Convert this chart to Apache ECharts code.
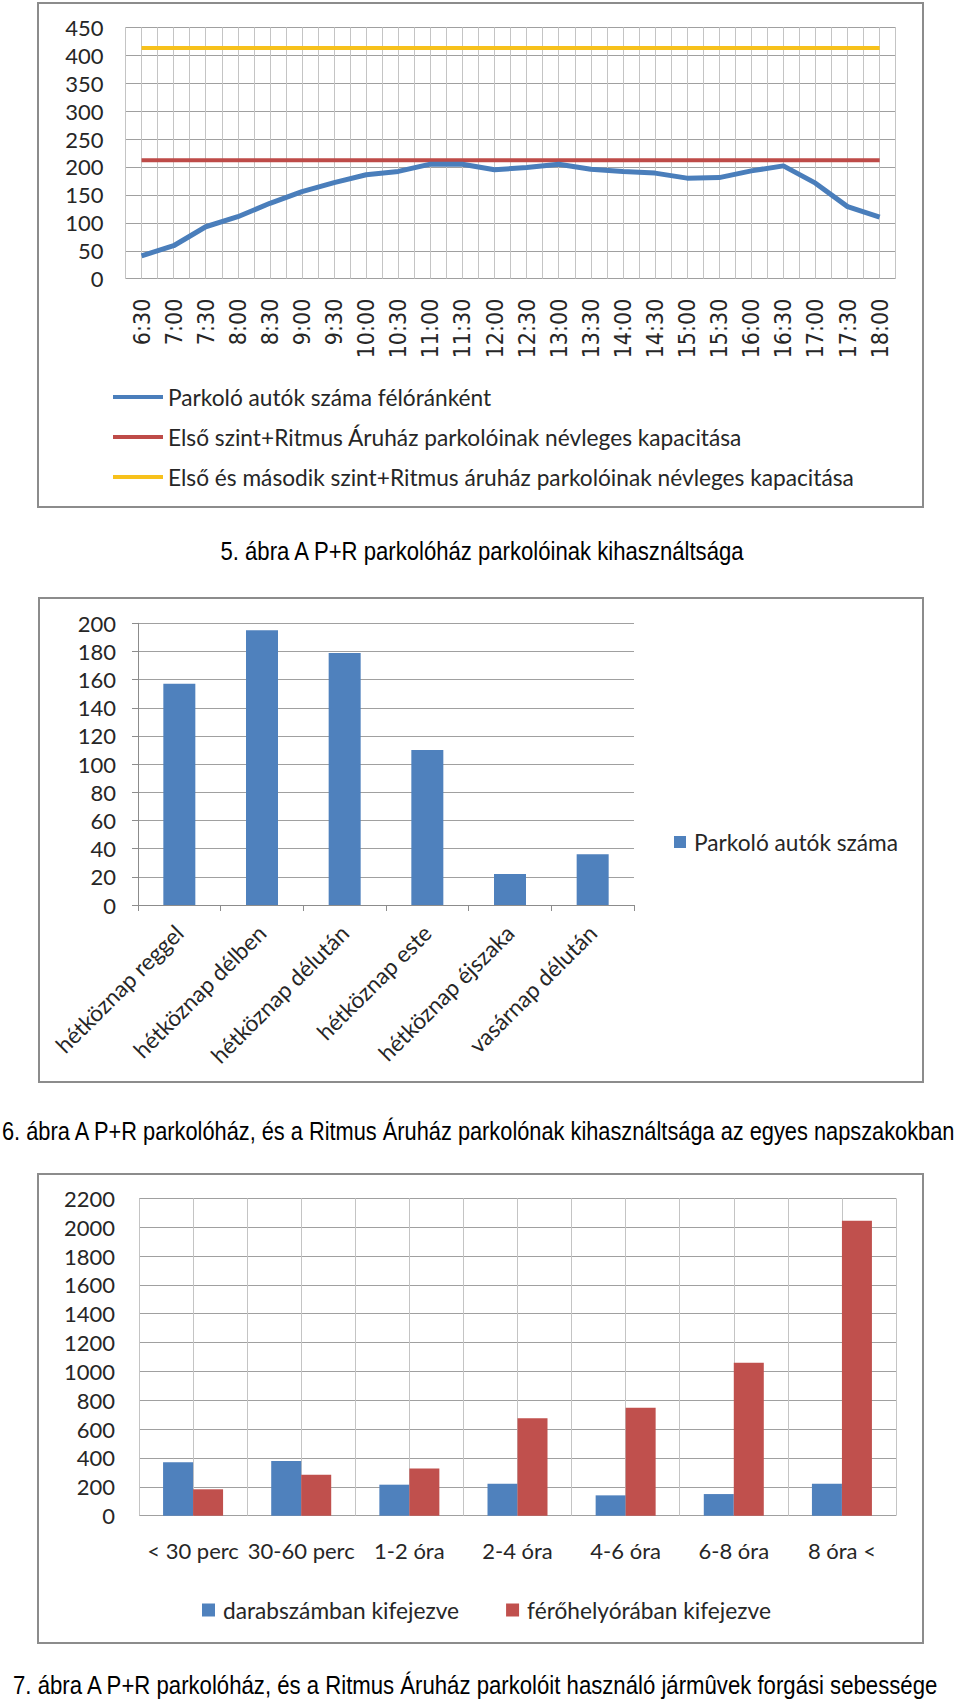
<!DOCTYPE html>
<html><head><meta charset="utf-8">
<script src="https://cdn.jsdelivr.net/npm/echarts@6/dist/echarts.min.js"></script>
<style>html,body{margin:0;padding:0;background:#fff}#c{width:960px;height:1702px}</style>
</head><body><div id="c"></div>
<script>
// ---- Chart 5 data ----
const times = ['6:30','7:00','7:30','8:00','8:30','9:00','9:30','10:00','10:30','11:00','11:30','12:00','12:30','13:00','13:30','14:00','14:30','15:00','15:30','16:00','16:30','17:00','17:30','18:00'];
const parkedPerHalfHour = [41, 59, 93, 111, 135, 156, 172, 186, 192, 205, 205, 195, 199, 205, 196, 192, 189, 180, 181, 193, 202, 171, 129, 110];
const capacityFirstLevel = [212,212,212,212,212,212,212,212,212,212,212,212,212,212,212,212,212,212,212,212,212,212,212,212];
const capacityBothLevels = [413,413,413,413,413,413,413,413,413,413,413,413,413,413,413,413,413,413,413,413,413,413,413,413];
const chart5Names = ['Parkoló autók száma félóránként','Első szint+Ritmus Áruház parkolóinak névleges kapacitása','Első és második szint+Ritmus áruház parkolóinak névleges kapacitása'];

// ---- Chart 6 data ----
const dayParts = ['hétköznap reggel','hétköznap délben','hétköznap délután','hétköznap este','hétköznap éjszaka','vasárnap délután'];
const parkedByDayPart = [157, 195, 179, 110, 22, 36];
const chart6Name = 'Parkoló autók száma';

// ---- Chart 7 data ----
const durations = ['< 30 perc','30-60 perc','1-2 óra','2-4 óra','4-6 óra','6-8 óra','8 óra <'];
const countExpressed = [370, 379, 215, 222, 141, 150, 222];
const spaceHoursExpressed = [183, 284, 328, 675, 749, 1061, 2045];
const chart7Names = ['darabszámban kifejezve','férőhelyórában kifejezve'];

// ---- Captions ----
const caption5 = '5. ábra A P+R parkolóház parkolóinak kihasználtsága';
const caption6 = '6. ábra A P+R parkolóház, és a Ritmus Áruház parkolónak kihasználtsága az egyes napszakokban';
const caption7 = '7. ábra A P+R parkolóház, és a Ritmus Áruház parkolóit használó jármûvek forgási sebessége';

const TXT = '#262626';
const CF = 'Lato, "Open Sans", sans-serif';
const NARROW = '"DejaVu Sans Condensed", "DejaVu Sans", sans-serif';
const CAPF = '"Liberation Sans", Arial, sans-serif';
const CAPSIZE = 25;
const BOX = '#8c8c8c';
const HGRID = '#a0a0a0';
const VGRID = '#c4c4c4';

// condensed caption: measure natural width, then squeeze horizontally to the reference width
const mctx = document.createElement('canvas').getContext('2d');
mctx.font = CAPSIZE + 'px ' + CAPF;
function captionEl(text, x, y, targetW, align) {
  const w = mctx.measureText(text).width;
  return {type: 'text', x: x, y: y, scaleX: targetW / w, scaleY: 1,
    style: {text: text, fontFamily: CAPF, fontSize: CAPSIZE, fill: '#000', align: align, verticalAlign: 'middle'}};
}

const chart = echarts.init(document.getElementById('c'), null, {renderer: 'svg'});
const plain = v => String(v);

const option = {
  animation: false,
  backgroundColor: '#fff',
  graphic: [
    {type: 'rect', shape: {x: 38, y: 3, width: 885, height: 504}, style: {fill: 'none', stroke: BOX, lineWidth: 2}},
    {type: 'rect', shape: {x: 39, y: 598, width: 884, height: 484}, style: {fill: 'none', stroke: BOX, lineWidth: 2}},
    {type: 'rect', shape: {x: 38, y: 1174, width: 885, height: 469}, style: {fill: 'none', stroke: BOX, lineWidth: 2}},
    captionEl(caption5, 482, 552, 526, 'center'),
    captionEl(caption6, 2, 1131, 956, 'left'),
    captionEl(caption7, 13, 1686, 927, 'left')
  ],
  legend: [
    {data: chart5Names, orient: 'vertical', left: 113, top: 385, padding: 0, itemGap: 16,
     icon: 'rect', itemWidth: 50, itemHeight: 4,
     textStyle: {fontFamily: CF, fontSize: 22.7, lineHeight: 24, color: TXT}},
    {data: [chart6Name], left: 674, top: 830, padding: 0, icon: 'rect', itemWidth: 12, itemHeight: 12,
     textStyle: {fontFamily: CF, fontSize: 22.7, lineHeight: 24, color: TXT, padding: [0,0,0,3]}},
    {data: chart7Names, left: 202, top: 1598, padding: 0, icon: 'rect', itemWidth: 13, itemHeight: 13, itemGap: 47,
     textStyle: {fontFamily: CF, fontSize: 22.7, lineHeight: 24, color: TXT, padding: [0,0,0,3]}}
  ],
  grid: [
    {left: 125.5, top: 27.3, width: 770.2, height: 251.4},
    {left: 138, top: 623.3, width: 496, height: 281.7},
    {left: 139, top: 1198.3, width: 757, height: 317.4}
  ],
  xAxis: [
    {type: 'category', gridIndex: 0, data: times, boundaryGap: true,
     axisLine: {show: false}, axisTick: {show: false}, splitLine: {show: false},
     axisLabel: {interval: 0, rotate: 90, margin: 20, fontFamily: NARROW, fontSize: 23, color: TXT}},
    {type: 'value', gridIndex: 0, position: 'top', min: 0, max: 48, interval: 1,
     axisLabel: {show: false}, axisLine: {show: false}, axisTick: {show: false},
     splitLine: {show: true, lineStyle: {color: VGRID, width: 1}}},
    {type: 'category', gridIndex: 1, data: dayParts, boundaryGap: true,
     axisLine: {show: true, lineStyle: {color: BOX}}, axisTick: {show: true, length: 6, lineStyle: {color: BOX}},
     axisLabel: {interval: 0, rotate: 45, margin: 24, fontFamily: CF, fontSize: 22.7, color: TXT}},
    {type: 'category', gridIndex: 2, data: durations, boundaryGap: true,
     axisLine: {show: false}, axisTick: {show: false}, splitLine: {show: false},
     axisLabel: {interval: 0, margin: 24, fontFamily: CF, fontSize: 22, color: TXT}},
    {type: 'value', gridIndex: 2, position: 'top', min: 0, max: 14, interval: 1,
     axisLabel: {show: false}, axisLine: {show: false}, axisTick: {show: false},
     splitLine: {show: true, lineStyle: {color: VGRID, width: 1}}}
  ],
  yAxis: [
    {type: 'value', gridIndex: 0, min: 0, max: 450, interval: 50,
     axisLine: {show: false}, axisTick: {show: false},
     axisLabel: {margin: 22, fontFamily: CF, fontSize: 22, color: TXT, formatter: plain},
     splitLine: {show: true, lineStyle: {color: HGRID, width: 1}}},
    {type: 'value', gridIndex: 1, min: 0, max: 200, interval: 20,
     axisLine: {show: true, lineStyle: {color: BOX}}, axisTick: {show: true, length: 6, lineStyle: {color: BOX}},
     axisLabel: {margin: 22, fontFamily: CF, fontSize: 22, color: TXT, formatter: plain},
     splitLine: {show: true, lineStyle: {color: HGRID, width: 1}}},
    {type: 'value', gridIndex: 2, min: 0, max: 2200, interval: 200,
     axisLine: {show: false}, axisTick: {show: false},
     axisLabel: {margin: 24, fontFamily: CF, fontSize: 22, color: TXT, formatter: plain},
     splitLine: {show: true, lineStyle: {color: HGRID, width: 1}}}
  ],
  series: [
    {name: chart5Names[2], type: 'line', xAxisIndex: 0, yAxisIndex: 0, data: capacityBothLevels,
     symbol: 'none', color: '#F7C11B', lineStyle: {width: 4, color: '#F7C11B'}},
    {name: chart5Names[1], type: 'line', xAxisIndex: 0, yAxisIndex: 0, data: capacityFirstLevel,
     symbol: 'none', color: '#BE4B48', lineStyle: {width: 4, color: '#BE4B48'}},
    {name: chart5Names[0], type: 'line', xAxisIndex: 0, yAxisIndex: 0, data: parkedPerHalfHour,
     symbol: 'none', color: '#4A7EBB', lineStyle: {width: 5, color: '#4A7EBB'}},
    {name: chart6Name, type: 'bar', xAxisIndex: 2, yAxisIndex: 1, data: parkedByDayPart,
     barWidth: 32, color: '#4F81BD', itemStyle: {color: '#4F81BD'}},
    {name: chart7Names[0], type: 'bar', xAxisIndex: 3, yAxisIndex: 2, data: countExpressed,
     barWidth: 30, barGap: '0%', color: '#4F81BD', itemStyle: {color: '#4F81BD'}},
    {name: chart7Names[1], type: 'bar', xAxisIndex: 3, yAxisIndex: 2, data: spaceHoursExpressed,
     barWidth: 30, barGap: '0%', color: '#C0504D', itemStyle: {color: '#C0504D'}}
  ]
};
chart.setOption(option);
</script></body></html>
